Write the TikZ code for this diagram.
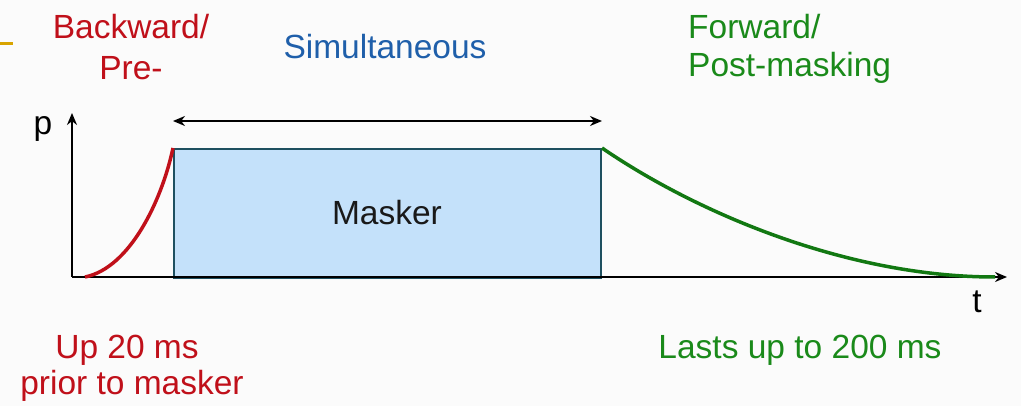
\documentclass[tikz,border=0pt]{standalone}
\usepackage{fontspec}
\setmainfont{Liberation Sans}
\usetikzlibrary{arrows.meta}
\definecolor{bgc}{HTML}{FBFBFB}
\definecolor{redc}{HTML}{C0101A}
\definecolor{bluec}{HTML}{1F5FAA}
\definecolor{greenc}{HTML}{1A8A1A}
\definecolor{curvegreen}{HTML}{127812}
\definecolor{boxfill}{HTML}{C4E1FA}
\definecolor{boxedge}{HTML}{1E5060}
\definecolor{goldc}{HTML}{D8A400}
\tikzset{
  lbl/.style={inner sep=0pt, font=\fontsize{33.5}{40}\selectfont},
  axis/.style={line width=2pt, -{Stealth[length=12pt,width=10pt]}},
}
\begin{document}
\begin{tikzpicture}[x=1pt,y=-1pt]
\fill[bgc] (0,0) rectangle (1021,406);
\useasboundingbox (0,0) rectangle (1021,406);
\draw[goldc, line width=3pt] (0,44) -- (13,44);
% masker box
\node[draw=boxedge, fill=boxfill, line width=2pt, minimum width=427pt, minimum height=129pt, inner sep=0pt, anchor=north west] (box) at (173,148) {};
\node[lbl, text=black!90] (masker) at (387,213) {Masker};
% axes
\coordinate (o) at (72,277);
\coordinate (ptop) at (72,113);
\coordinate (tend) at (1007,277);
\draw[axis] (o) -- (ptop);
\draw[axis] (o) -- (tend);
\node[lbl] (p) at (43,129) {p};
\node[lbl] (t) at (977,302) {t};
% double arrow
\draw[line width=2pt, {Stealth[length=12pt,width=10pt]}-{Stealth[length=12pt,width=10pt]}] (box.north west |- 0,121) -- (box.north east |- 0,121);
% curves
\draw[redc, line width=3.5pt] (85,277) .. controls (130,268) and (162,200) .. (box.north west);
\draw[curvegreen, line width=3.5pt] (box.north east) .. controls (700,215) and (850,277) .. (995,277);
% labels
\node[lbl, text=redc] (bw) at (131,27) {Backward/};
\node[lbl, text=redc] (pre) at (131,68) {Pre-};
\node[lbl, text=bluec] (sim) at (385,47) {Simultaneous};
\node[lbl, text=greenc, anchor=west] (fw) at (688,27) {Forward/};
\node[lbl, text=greenc, anchor=west] (post) at (688,68) {Post-masking};
\node[lbl, text=redc] (up) at (127,350) {Up 20 ms};
\node[lbl, text=redc] (prior) at (132,386) {prior to masker};
\node[lbl, text=greenc] (lasts) at (800,350) {Lasts up to 200 ms};
\end{tikzpicture}
\end{document}
